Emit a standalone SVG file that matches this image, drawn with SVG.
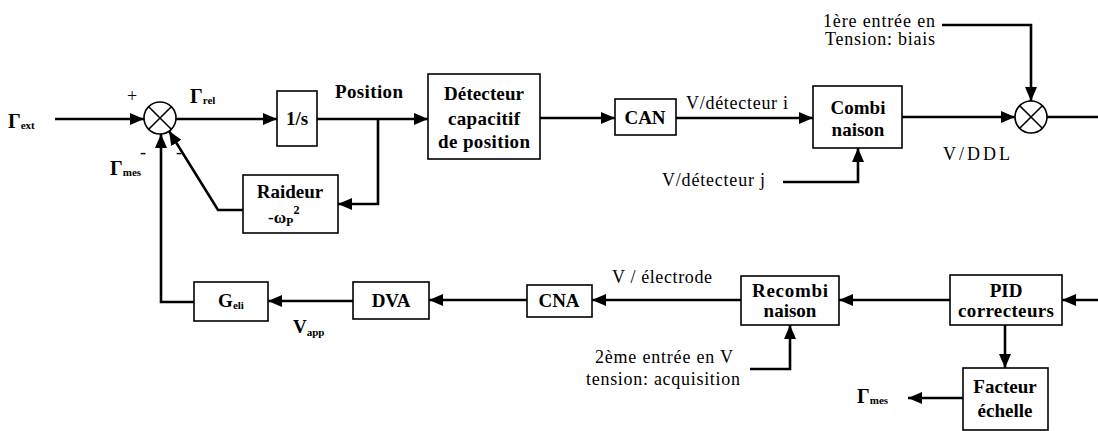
<svg xmlns="http://www.w3.org/2000/svg" width="1098" height="431" viewBox="0 0 1098 431" font-family="Liberation Serif, DejaVu Serif, serif">
<style>
.box{fill:#fff;stroke:#000;stroke-width:1.6}
.ln{fill:none;stroke:#000;stroke-width:2.6}
.sum{fill:#fff;stroke:#000;stroke-width:1.6}
.b{font-weight:bold;font-size:19px;text-anchor:middle;fill:#000}
.t{font-size:18px;fill:#000}
.g{font-weight:bold;font-size:20px;fill:#000}
.s{font-size:11px}
</style>
<defs>
<marker id="ah" viewBox="0 0 14 12" refX="14" refY="6" markerWidth="14" markerHeight="12" markerUnits="userSpaceOnUse" orient="auto">
<path d="M0,0 L14,6 L0,12 z" fill="#000"/>
</marker>
</defs>
<rect width="1098" height="431" fill="#fff"/>
<g id="connectors">
<path class="ln" d="M55,119 L144,119" marker-end="url(#ah)"/>
<path class="ln" d="M176,119 L277,119" marker-end="url(#ah)"/>
<path class="ln" d="M317,119 L428,119" marker-end="url(#ah)"/>
<path class="ln" d="M378,119 L378,204 L338,204" marker-end="url(#ah)"/>
<path class="ln" d="M243,210 L218,210 L169,131" marker-end="url(#ah)"/>
<path class="ln" d="M194,302 L161,302 L161,134" marker-end="url(#ah)"/>
<path class="ln" d="M540,118 L615,118" marker-end="url(#ah)"/>
<path class="ln" d="M676,118 L813,118" marker-end="url(#ah)"/>
<path class="ln" d="M902,117 L1015,117" marker-end="url(#ah)"/>
<path class="ln" d="M1047,117 L1098,117"/>
<path class="ln" d="M942,25 L1031,25 L1031,101" marker-end="url(#ah)"/>
<path class="ln" d="M783,182 L858,182 L858,148" marker-end="url(#ah)"/>
<path class="ln" d="M1098,300 L1062,300" marker-end="url(#ah)"/>
<path class="ln" d="M950,300 L839,300" marker-end="url(#ah)"/>
<path class="ln" d="M741,300 L592,300" marker-end="url(#ah)"/>
<path class="ln" d="M527,300 L429,300" marker-end="url(#ah)"/>
<path class="ln" d="M353,301 L268,301" marker-end="url(#ah)"/>
<path class="ln" d="M1005,325 L1005,368" marker-end="url(#ah)"/>
<path class="ln" d="M963,398 L908,398" marker-end="url(#ah)"/>
<path class="ln" d="M750,369 L790,369 L790,325" marker-end="url(#ah)"/>
</g>
<g id="sum1">
<circle class="sum" cx="160" cy="118" r="16"/>
<path class="sum" d="M148.7,106.7 L171.3,129.3 M171.3,106.7 L148.7,129.3"/>
</g>
<g id="sum2">
<circle class="sum" cx="1031" cy="117" r="16"/>
<path class="sum" d="M1019.7,105.7 L1042.3,128.3 M1042.3,105.7 L1019.7,128.3"/>
</g>
<g id="integ">
<rect class="box" x="277" y="91" width="40" height="55"/>
<text class="b" x="297" y="125">1/s</text>
</g>
<g id="raideur">
<rect class="box" x="243" y="175" width="95" height="58"/>
<text class="b" x="290" y="198">Raideur</text>
<text class="b" x="268" y="223" style="text-anchor:start;font-size:17px">-ω<tspan font-size="12" dy="3">P</tspan><tspan font-size="12" dy="-12">2</tspan></text>
</g>
<g id="detecteur">
<rect class="box" x="428" y="74" width="112" height="85"/>
<text class="b" x="484" y="100" textLength="80">Détecteur</text>
<text class="b" x="484" y="125" textLength="72">capacitif</text>
<text class="b" x="484" y="148" textLength="92">de position</text>
</g>
<g id="can">
<rect class="box" x="615" y="99" width="61" height="36"/>
<text class="b" x="645" y="124">CAN</text>
</g>
<g id="combi">
<rect class="box" x="813" y="86" width="89" height="62"/>
<text class="b" x="858" y="114">Combi</text>
<text class="b" x="858" y="136">naison</text>
</g>
<g id="geli">
<rect class="box" x="194" y="282" width="74" height="39"/>
<text class="b" x="231" y="307">G<tspan class="s" dy="2">eli</tspan></text>
</g>
<g id="dva">
<rect class="box" x="353" y="282" width="76" height="37"/>
<text class="b" x="391" y="307">DVA</text>
</g>
<g id="cna">
<rect class="box" x="527" y="285" width="65" height="32"/>
<text class="b" x="559" y="307">CNA</text>
</g>
<g id="recombi">
<rect class="box" x="741" y="276" width="98" height="49"/>
<text class="b" x="790" y="297" textLength="76">Recombi</text>
<text class="b" x="790" y="317">naison</text>
</g>
<g id="pid">
<rect class="box" x="950" y="275" width="112" height="50"/>
<text class="b" x="1006" y="297">PID</text>
<text class="b" x="1006" y="317" textLength="96">correcteurs</text>
</g>
<g id="facteur">
<rect class="box" x="963" y="368" width="85" height="62"/>
<text class="b" x="1005" y="393">Facteur</text>
<text class="b" x="1005" y="417">échelle</text>
</g>
<g id="labels">
<text class="g" x="8" y="128">Γ<tspan class="s" dy="1">ext</tspan></text>
<text class="g" x="190" y="103">Γ<tspan class="s" dy="1">rel</tspan></text>
<text class="g" x="110" y="175">Γ<tspan class="s" dy="1">mes</tspan></text>
<text class="g" x="857" y="403">Γ<tspan class="s" dy="1">mes</tspan></text>
<text class="g" x="293" y="333" style="font-size:19px">V<tspan class="s" dy="3" font-size="10">app</tspan></text>
<text class="t" x="132" y="102" text-anchor="middle">+</text>
<text class="t" x="143" y="158" text-anchor="middle">-</text>
<text class="t" x="179" y="158" text-anchor="middle">-</text>
<text class="b" x="369" y="98" textLength="68">Position</text>
<text class="t" x="686" y="109" textLength="102">V/détecteur i</text>
<text class="t" x="662" y="186" textLength="103">V/détecteur j</text>
<text class="t" x="943" y="160" textLength="67">V/DDL</text>
<text class="t" x="823" y="27" textLength="112">1ère entrée en</text>
<text class="t" x="825" y="45" textLength="110">Tension: biais</text>
<text class="t" x="612" y="283" textLength="100">V / électrode</text>
<text class="t" x="595" y="363" textLength="138">2ème entrée en V</text>
<text class="t" x="586" y="385" textLength="154">tension: acquisition</text>
</g>
</svg>
